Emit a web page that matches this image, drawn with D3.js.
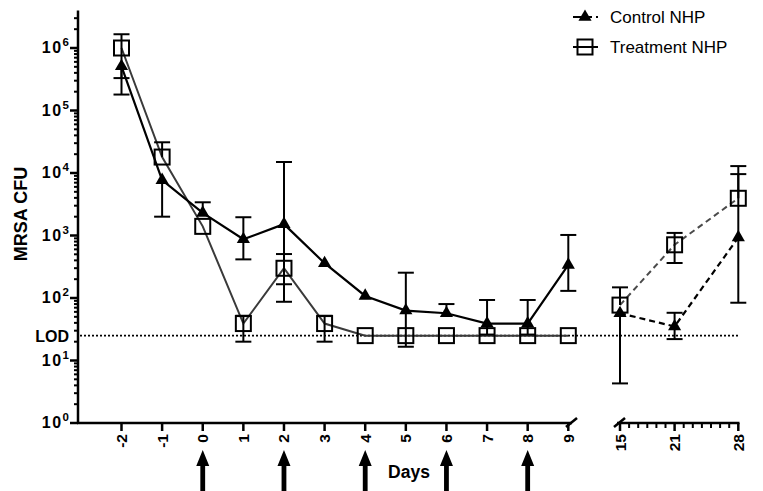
<!DOCTYPE html>
<html>
<head>
<meta charset="utf-8">
<script src="https://cdn.jsdelivr.net/npm/d3@7"></script>
<style>
  body { margin: 0; background: #fff; }
  svg { display: block; }
  text { font-family: Arial, "Liberation Sans", Helvetica, sans-serif; }
</style>
</head>
<body>
<svg id="chart" width="763" height="491"></svg>
<script>
// ---- data ----
const days1 = [-2, -1, 0, 1, 2, 3, 4, 5, 6, 7, 8, 9];
const days2 = [15, 21, 28];
const xTicks2 = [15, 21, 28];
const xMinor2 = [16, 17, 18, 19, 20, 22, 23, 24, 25, 26, 27];

const control1   = [5.1e5, 7.7e3, 2300, 870, 1520, 360, 108, 63, 57, 39, 39, 338];
const controlLo1 = [1.8e5, 2000, null, 415, 87, null, null, 16.6, null, 26, 26, 130];
const controlHi1 = [null, null, 3400, 1960, 15000, null, null, 254, 80, 93, 93, 1020];
const control2   = [57, 35, 930];
const controlLo2 = [4.3, 22, 84];
const controlHi2 = [null, 58, 12900];

const treat1   = [1.0e6, 1.8e4, 1400, 39, 299, 39, 25, 25, 25, 25, 25, 25];
const treatLo1 = [3.3e5, null, null, 20, 166, 20, null, null, null, null, null, null];
const treatHi1 = [1.66e6, 3.1e4, null, 52, 505, 52, null, null, null, null, null, null];
const treat2   = [77, 710, 3940];
const treatLo2 = [null, 363, null];
const treatHi2 = [148, 1100, 9600];

const LOD = 25;
const arrowDays = [0, 2, 4, 6, 8];
const yMajor = [1, 10, 100, 1000, 10000, 100000, 1000000];
const yMajorExp = ["0", "1", "2", "3", "4", "5", "6"];

// ---- scales ----
const svg = d3.select("#chart");
const y = d3.scaleLog().domain([1, Math.pow(10, 6.6)]).range([423, 10.5]);
const x1 = d3.scaleLinear().domain([-2, 9]).range([121.5, 568.3]);
const x2 = d3.scaleLinear().domain([15, 28]).range([620, 738.3]);
const axisX = 78, axisY = 423;

// ---- y axis ----
svg.append("line").attr("x1", axisX).attr("x2", axisX).attr("y1", y(Math.pow(10, 6.6))).attr("y2", axisY + 1)
  .attr("stroke", "#000").attr("stroke-width", 2.5);
const minors = [];
for (let d = 0; d <= 6; d++) for (let m = 2; m <= 9; m++) {
  const v = m * Math.pow(10, d);
  if (v <= Math.pow(10, 6.6)) minors.push(v);
}
svg.selectAll(".ymin").data(minors).enter().append("line")
  .attr("x1", axisX - 4).attr("x2", axisX).attr("y1", d => y(d)).attr("y2", d => y(d))
  .attr("stroke", "#000").attr("stroke-width", 2);
svg.selectAll(".ymaj").data(yMajor).enter().append("line")
  .attr("x1", axisX - 8).attr("x2", axisX).attr("y1", d => y(d)).attr("y2", d => y(d))
  .attr("stroke", "#000").attr("stroke-width", 2.5);
const yl = svg.selectAll(".ylab").data(yMajor).enter().append("text")
  .attr("x", axisX - 9).attr("y", d => y(d) + 5)
  .attr("text-anchor", "end").attr("font-weight", "bold").attr("font-size", 16);
yl.append("tspan").attr("letter-spacing", 1.5).text("10");
yl.append("tspan").attr("dy", -7).attr("font-size", 11.5).text((d, i) => yMajorExp[i]);

svg.append("text").attr("x", axisX - 9).attr("y", y(LOD) + 6).attr("text-anchor", "end")
  .attr("font-weight", "bold").attr("font-size", 16).text("LOD");

svg.append("text").attr("transform", `translate(27,${214}) rotate(-90)`)
  .attr("text-anchor", "middle").attr("font-weight", "bold").attr("font-size", 18).text("MRSA CFU");

// ---- x axis segment 1 ----
svg.append("line").attr("x1", axisX - 1).attr("x2", 572).attr("y1", axisY).attr("y2", axisY)
  .attr("stroke", "#000").attr("stroke-width", 2.5);
svg.append("line").attr("x1", 566).attr("x2", 577).attr("y1", axisY + 4).attr("y2", axisY - 5)
  .attr("stroke", "#000").attr("stroke-width", 2.5);
svg.selectAll(".xt1").data(days1).enter().append("line")
  .attr("x1", d => x1(d)).attr("x2", d => x1(d)).attr("y1", axisY).attr("y2", axisY + 8)
  .attr("stroke", "#000").attr("stroke-width", 2.5);
svg.selectAll(".xl1").data(days1).enter().append("text")
  .attr("transform", d => `translate(${x1(d) + 5.5},${axisY + 11}) rotate(-90)`)
  .attr("text-anchor", "end").attr("font-weight", "bold").attr("font-size", 15.5).text(d => d);

// ---- x axis segment 2 ----
svg.append("line").attr("x1", 617).attr("x2", 739.5).attr("y1", axisY).attr("y2", axisY)
  .attr("stroke", "#000").attr("stroke-width", 2.5);
svg.append("line").attr("x1", 614).attr("x2", 625).attr("y1", axisY + 4).attr("y2", axisY - 5)
  .attr("stroke", "#000").attr("stroke-width", 2.5);
svg.selectAll(".xm2").data(xMinor2).enter().append("line")
  .attr("x1", d => x2(d)).attr("x2", d => x2(d)).attr("y1", axisY).attr("y2", axisY + 5)
  .attr("stroke", "#000").attr("stroke-width", 2);
svg.selectAll(".xt2").data(xTicks2).enter().append("line")
  .attr("x1", d => x2(d)).attr("x2", d => x2(d)).attr("y1", axisY).attr("y2", axisY + 8)
  .attr("stroke", "#000").attr("stroke-width", 2.5);
svg.selectAll(".xl2").data(xTicks2).enter().append("text")
  .attr("transform", d => `translate(${x2(d) + 5.5},${axisY + 11}) rotate(-90)`)
  .attr("text-anchor", "end").attr("font-weight", "bold").attr("font-size", 15.5).text(d => d);

svg.append("text").attr("x", 409).attr("y", 478).attr("text-anchor", "middle")
  .attr("font-weight", "bold").attr("font-size", 17.5).text("Days");

// arrows
svg.selectAll(".arr").data(arrowDays).enter().append("path")
  .attr("d", d => {
    const cx = x1(d);
    return `M${cx - 2.4},491 L${cx - 2.4},466 L${cx - 6.5},466 L${cx},450 L${cx + 6.5},466 L${cx + 2.4},466 L${cx + 2.4},491 Z`;
  })
  .attr("fill", "#000");

// LOD line
svg.append("line").attr("x1", axisX + 2).attr("x2", x2(28)).attr("y1", y(LOD)).attr("y2", y(LOD))
  .attr("stroke", "#000").attr("stroke-width", 1.6).attr("stroke-dasharray", "2,2");

// ---- series ----
function pts(xs, ys, lo, hi, sc) {
  return xs.map((d, i) => ({ x: sc(d), y: y(ys[i]), lo: lo[i], hi: hi[i], v: ys[i] }));
}
const c1 = pts(days1, control1, controlLo1, controlHi1, x1);
const c2 = pts(days2, control2, controlLo2, controlHi2, x2);
const t1 = pts(days1, treat1, treatLo1, treatHi1, x1);
const t2 = pts(days2, treat2, treatLo2, treatHi2, x2);

const line = d3.line().x(d => d.x).y(d => d.y);
svg.append("path").attr("d", line(t1)).attr("fill", "none").attr("stroke", "#3a3a3a").attr("stroke-width", 2);
svg.append("path").attr("d", line(t2)).attr("fill", "none").attr("stroke", "#4a4a4a").attr("stroke-width", 2).attr("stroke-dasharray", "6,4");
svg.append("path").attr("d", line(c1)).attr("fill", "none").attr("stroke", "#000").attr("stroke-width", 2.2);
svg.append("path").attr("d", line(c2)).attr("fill", "none").attr("stroke", "#000").attr("stroke-width", 2.2).attr("stroke-dasharray", "6,4");

function errbars(data) {
  data.forEach(p => {
    [p.lo, p.hi].forEach(e => {
      if (e == null) return;
      svg.append("line").attr("x1", p.x).attr("x2", p.x).attr("y1", p.y).attr("y2", y(e))
        .attr("stroke", "#000").attr("stroke-width", 2);
      svg.append("line").attr("x1", p.x - 8).attr("x2", p.x + 8).attr("y1", y(e)).attr("y2", y(e))
        .attr("stroke", "#000").attr("stroke-width", 2);
    });
  });
}
errbars(t1); errbars(t2); errbars(c1); errbars(c2);

function squares(data) {
  svg.selectAll(null).data(data).enter().append("rect")
    .attr("x", d => d.x - 7.5).attr("y", d => d.y - 7.5).attr("width", 15).attr("height", 15)
    .attr("fill", "none").attr("stroke", "#000").attr("stroke-width", 2);
}
const tri = d3.symbol().type(d3.symbolTriangle).size(75);
function triangles(data) {
  svg.selectAll(null).data(data).enter().append("path")
    .attr("d", tri).attr("transform", d => `translate(${d.x},${d.y})`).attr("fill", "#000");
}
squares(t1); squares(t2); triangles(c1); triangles(c2);

// ---- legend ----
const lg = svg.append("g");
lg.append("line").attr("x1", 573).attr("x2", 590).attr("y1", 17).attr("y2", 17).attr("stroke", "#000").attr("stroke-width", 2);
lg.append("line").attr("x1", 590).attr("x2", 598).attr("y1", 17).attr("y2", 17).attr("stroke", "#000").attr("stroke-width", 2).attr("stroke-dasharray", "2,4");
lg.append("path").attr("d", tri).attr("transform", "translate(585,17)").attr("fill", "#000");
lg.append("text").attr("x", 610).attr("y", 23).attr("font-size", 17).text("Control NHP");
lg.append("line").attr("x1", 573).attr("x2", 598).attr("y1", 47).attr("y2", 47).attr("stroke", "#000").attr("stroke-width", 2);
lg.append("rect").attr("x", 577.5).attr("y", 39.5).attr("width", 15).attr("height", 15).attr("fill", "none").attr("stroke", "#000").attr("stroke-width", 2);
lg.append("text").attr("x", 610).attr("y", 53).attr("font-size", 17).text("Treatment NHP");
</script>
</body>
</html>
